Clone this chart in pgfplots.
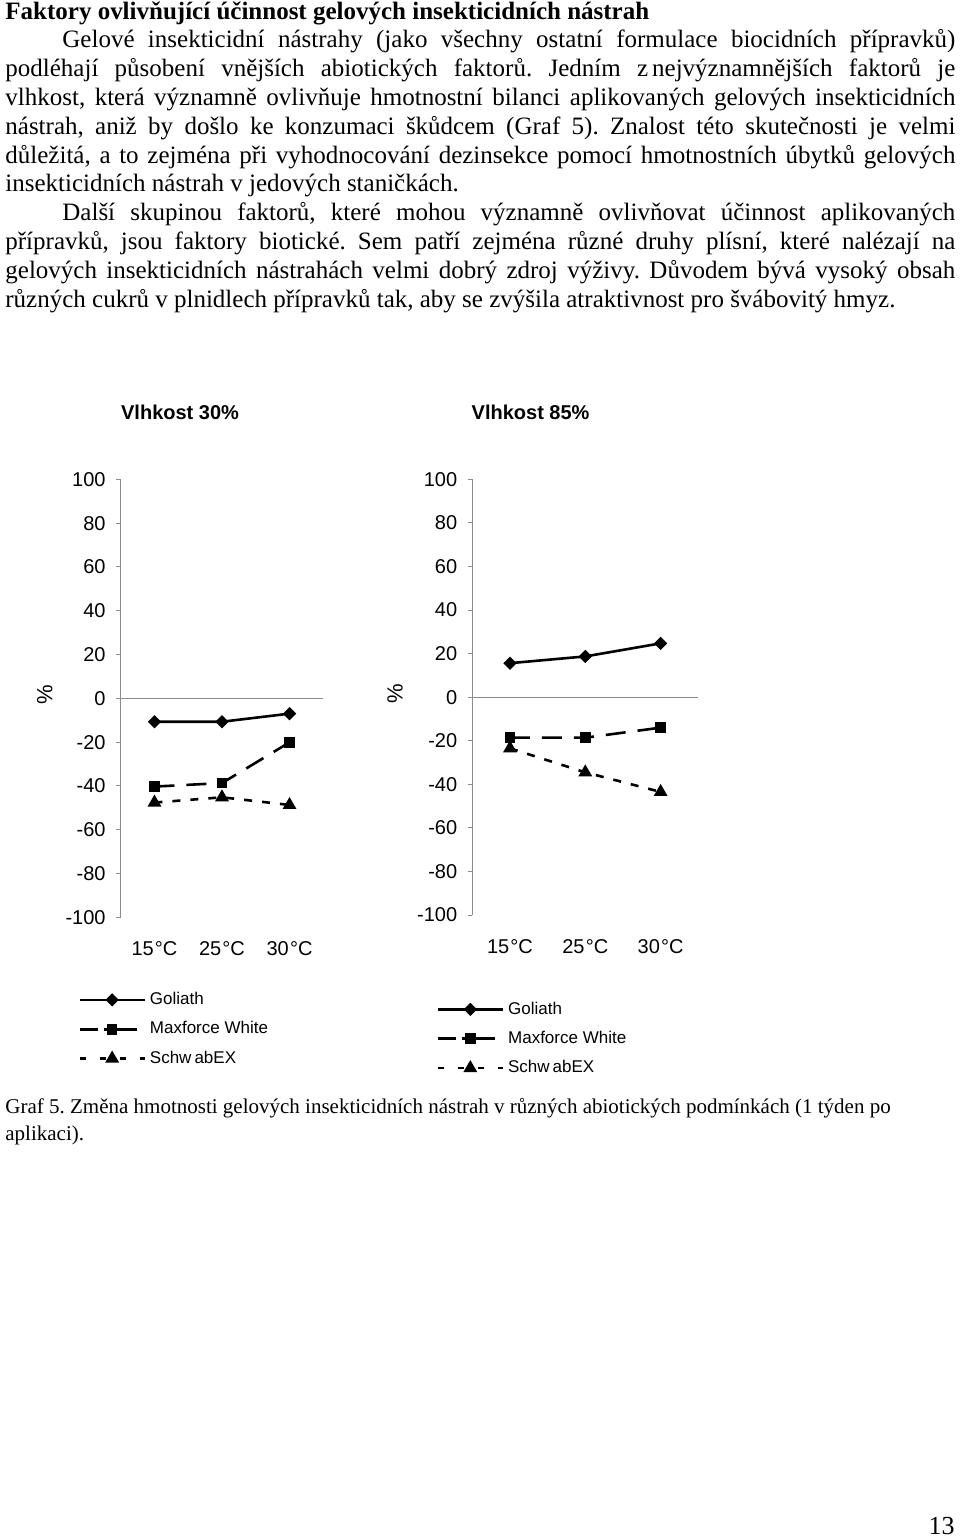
\documentclass[border=0pt]{standalone}
\usepackage{pgfplots}
\pgfplotsset{compat=1.18}
\usepackage{fontspec}
\setmainfont{Liberation Serif}
\newfontfamily\arial{Liberation Sans}

\pgfplotsset{
  chart/.style={
    scale only axis,
    axis y line*=left, axis x line*=bottom,
    axis line style={-},
    x axis line style={draw=none},
    y axis line style={black!45, line width=0.5pt},
    xmin=0.5, xmax=3.5, ymin=-100, ymax=100,
    ytick={-100,-80,...,100},
    xtick={1,2,3},
    xticklabels={15\kern0.6pt°C,25\kern0.6pt°C,30\kern0.6pt°C},
    xtick style={draw=none},
    ytick style={black!45, line width=0.5pt},
    tick align=outside, major tick length=2.35pt,
    /pgf/number format/assume math mode=true,
    tick label style={font=\arial\fontsize{10}{12}\selectfont},
    yticklabel style={anchor=east, inner sep=0pt, xshift=-5pt},
    xticklabel style={anchor=center, yshift=-13.5pt},
    title style={font=\arial\bfseries\fontsize{10}{12}\selectfont, anchor=center},
    ylabel style={font=\arial\fontsize{11}{13}\selectfont, anchor=center},
    legend style={draw=none, fill=none, anchor=north west,
      font=\arial\fontsize{8.5}{10}\selectfont, row sep=3pt, inner sep=0pt},
    legend cell align=left,
    legend image code/.code={\draw[mark repeat=2,mark phase=2,##1] plot coordinates {(0pt,0pt) (16.25pt,0pt) (32.5pt,0pt)};},
  },
  gol/.style={black, line width=1.3pt, mark=square*, mark size=1.7pt, mark options={rotate=45, solid}},
  max/.style={black, line width=1.3pt, dash pattern=on 10pt off 6pt, mark=square*, mark size=2pt, mark options={solid},
    legend image post style={dash pattern=on 9pt off 3pt on 16.5pt off 20pt}},
  sch/.style={black, line width=1.3pt, dash pattern=on 4pt off 5pt, mark=triangle*, mark size=2.7pt, mark options={solid},
    legend image post style={dash pattern=on 3pt off 7pt}},
}

\begin{document}
\frenchspacing
\begin{tikzpicture}
\begin{scope}[x=0.5pt,y=-0.5pt]
\path[use as bounding box] (0,0) rectangle (960,1537);
\fontsize{12.5}{15}\selectfont
\def\fw{475pt}
\def\iw{446.5pt}
\node[anchor=base west, inner sep=0pt] at (5,19) {\textbf{Faktory ovlivňující účinnost gelových insekticidních nástrah}};
\node[anchor=base west, inner sep=0pt] at (62,47.8) {\makebox[\iw][s]{Gelové insekticidní nástrahy (jako všechny ostatní formulace biocidních přípravků)}};
\node[anchor=base west, inner sep=0pt] at (5,76.6) {\makebox[\fw][s]{podléhají působení vnějších abiotických faktorů. Jedním z\kern2pt nejvýznamnějších faktorů je}};
\node[anchor=base west, inner sep=0pt] at (5,105.4) {\makebox[\fw][s]{vlhkost, která významně ovlivňuje hmotnostní bilanci aplikovaných gelových insekticidních}};
\node[anchor=base west, inner sep=0pt] at (5,134.2) {\makebox[\fw][s]{nástrah, aniž by došlo ke konzumaci škůdcem (Graf 5). Znalost této skutečnosti je velmi}};
\node[anchor=base west, inner sep=0pt] at (5,163) {\makebox[\fw][s]{důležitá, a to zejména při vyhodnocování dezinsekce pomocí hmotnostních úbytků gelových}};
\node[anchor=base west, inner sep=0pt] at (5,191.8) {insekticidních nástrah v jedových staničkách.};
\node[anchor=base west, inner sep=0pt] at (62,220.6) {\makebox[\iw][s]{Další skupinou faktorů, které mohou významně ovlivňovat účinnost aplikovaných}};
\node[anchor=base west, inner sep=0pt] at (5,249.4) {\makebox[\fw][s]{přípravků, jsou faktory biotické. Sem patří zejména různé druhy plísní, které nalézají na}};
\node[anchor=base west, inner sep=0pt] at (5,278.2) {\makebox[\fw][s]{gelových insekticidních nástrahách velmi dobrý zdroj výživy. Důvodem bývá vysoký obsah}};
\node[anchor=base west, inner sep=0pt] at (5,307) {různých cukrů v plnidlech přípravků tak, aby se zvýšila atraktivnost pro švábovitý hmyz.};
\node[anchor=base west, inner sep=0pt, font=\fontsize{10.5}{12}\selectfont] at (5,1113) {Graf 5. Změna hmotnosti gelových insekticidních nástrah v různých abiotických podmínkách (1 týden po};
\node[anchor=base west, inner sep=0pt, font=\fontsize{10.5}{12}\selectfont] at (5,1140) {aplikaci).};
\node[anchor=base east, inner sep=0pt, font=\fontsize{13}{15}\selectfont] at (955,1534) {13};
\end{scope}

% Chart 1
\begin{axis}[chart, at={({120.7*0.5pt},{-917.3*0.5pt})}, anchor=south west,
  width=101.3pt, height=219pt,
  title={Vlhkost 30\%}, title style={at={(0.293,1.126)}},
  ylabel={\%}, ylabel style={at={(-0.374,0.5075)}, rotate=0},
  legend style={at={(-0.211,-0.161)}}]
\addplot[gol] coordinates {(1,-10.7) (2,-10.7) (3,-7.0)};
\addlegendentry{Goliath}
\addplot[max] coordinates {(1,-40.3) (2,-38.7) (3,-20.1)};
\addlegendentry{Maxforce White}
\addplot[sch] coordinates {(1,-47.6) (2,-45.2) (3,-48.7)};
\addlegendentry{Schw\kern1.5pt abEX}
\draw[black!45, line width=0.5pt] (axis cs:0.5,0) -- (axis cs:3.5,0);
\end{axis}

% Chart 2
\begin{axis}[chart, at={({472.3*0.5pt},{-915*0.5pt})}, anchor=south west,
  width=113pt, height=217.85pt,
  title={Vlhkost 85\%}, title style={at={(0.258,1.1255)}},
  ylabel={\%}, ylabel style={at={(-0.342,0.507)}, rotate=0},
  legend style={at={(-0.16,-0.189)}}]
\addplot[gol] coordinates {(1,15.6) (2,18.7) (3,24.7)};
\addlegendentry{Goliath}
\addplot[max] coordinates {(1,-18.6) (2,-18.6) (3,-14.0)};
\addlegendentry{Maxforce White}
\addplot[sch] coordinates {(1,-23.5) (2,-34.5) (3,-43.5)};
\addlegendentry{Schw\kern1.5pt abEX}
\draw[black!45, line width=0.5pt] (axis cs:0.5,0) -- (axis cs:3.5,0);
\end{axis}
\end{tikzpicture}
\end{document}
